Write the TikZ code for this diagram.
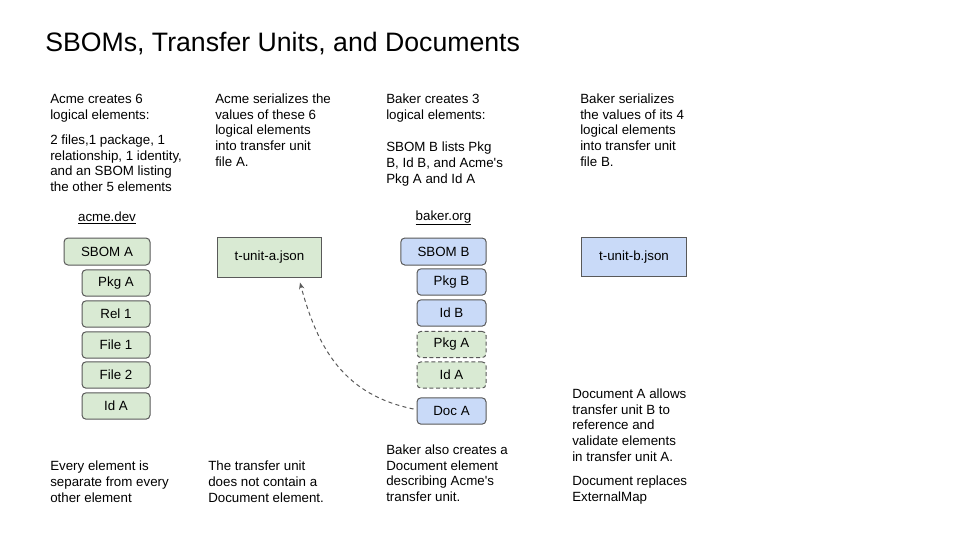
\documentclass[tikz,border=0pt]{standalone}
\usepackage{fontspec}
\setmainfont{Liberation Sans}
\usetikzlibrary{arrows.meta}
\definecolor{edgegray}{HTML}{595959}
\definecolor{greenfill}{HTML}{D9EAD3}
\definecolor{bluefill}{HTML}{C9DAF8}
\begin{document}
\begin{tikzpicture}[x=0.75pt,y=-0.75pt,
  txt/.style={anchor=base west,inner sep=0pt,align=left,font=\fontsize{10}{11.8}\selectfont},
  lbl/.style={inner sep=0pt,font=\fontsize{10}{12}\selectfont},
  elem/.style={draw=edgegray,line width=0.75pt,rounded corners=3pt,inner sep=0pt,
    font=\fontsize{10}{12}\selectfont,minimum height=19.75pt},
  greenbox/.style={elem,fill=greenfill},
  bluebox/.style={elem,fill=bluefill},
  refbox/.style={elem,fill=greenfill,dashed,dash pattern=on 3pt off 2pt},
  unitbox/.style={draw=edgegray,line width=0.75pt,inner sep=0pt,
    font=\fontsize{10}{12}\selectfont,minimum height=29.5pt,minimum width=78.5pt},
  link/.style={draw=edgegray,line width=0.75pt,dash pattern=on 3pt off 2.5pt,
    -{Stealth[length=5pt,width=4pt]}}]
\useasboundingbox (0,0) rectangle (960,540);

% title
\node[anchor=base west,inner sep=0pt,font=\fontsize{20}{24}\selectfont] (title) at (45,51.5) {SBOMs, Transfer Units, and Documents};

% top texts (positions are the baseline of the last line)
\node[txt] (c1a) at (50,119.2) {Acme creates 6\\logical elements:};
\node[txt] (c1b) at (50,191.7) {2 files,1 package, 1\\relationship, 1 identity,\\and an SBOM listing\\the other 5 elements};
\node[txt] (c2) at (215,166.4) {Acme serializes the\\values of these 6\\logical elements\\into transfer unit\\file A.};
\node[txt] (c3a) at (386,119.2) {Baker creates 3\\logical elements:};
\node[txt] (c3b) at (386,183) {SBOM B lists Pkg\\B, Id B, and Acme\textquotesingle s\\Pkg A and Id A};
\node[txt] (c4) at (580,166.4) {Baker serializes\\the values of its 4\\logical elements\\into transfer unit\\file B.};

% domain labels
\node[lbl] (acme) at (107,218) {\underline{acme.dev}};
\node[lbl] (baker) at (443.5,218) {\underline{baker.org}};

% acme elements
\node[greenbox,minimum width=64.5pt,minimum height=20.25pt] (sboma) at (107,251.5) {SBOM A};
\node[greenbox,minimum width=51pt] (pkga) at (116,283) {Pkg A};
\node[greenbox,minimum width=51pt] (rel1) at (116,314) {Rel 1};
\node[greenbox,minimum width=51pt] (file1) at (116,345) {File 1};
\node[greenbox,minimum width=51pt] (file2) at (116,375) {File 2};
\node[greenbox,minimum width=51pt] (ida) at (116,406) {Id A};

% transfer units
\node[unitbox,fill=greenfill] (tua) at (269.5,257.5) {t-unit-a.json};
\node[unitbox,fill=bluefill] (tub) at (634,257) {t-unit-b.json};

% baker elements
\node[bluebox,minimum width=64pt,minimum height=20.25pt] (sbomb) at (443.5,251.5) {SBOM B};
\node[bluebox,minimum width=51.75pt] (pkgb) at (451.5,282) {Pkg B};
\node[bluebox,minimum width=51.75pt] (idb) at (451.5,313) {Id B};
\node[refbox,minimum width=51.75pt] (pkgaref) at (451.5,344.5) {Pkg A};
\node[refbox,minimum width=51.75pt] (idaref) at (451.5,375) {Id A};
\node[bluebox,minimum width=51.75pt] (doca) at (451.5,411) {Doc A};

% reference arrow
\coordinate (tip) at (300,282.5);
\draw[link] (doca.west) ++(-3,-2) .. controls (345,395) and (318,350) .. (tip);

% bottom texts (positions are the baseline of the last line)
\node[txt] (b1) at (50,502) {Every element is\\separate from every\\other element};
\node[txt] (b2) at (208,502) {The transfer unit\\does not contain a\\Document element.};
\node[txt] (b3) at (386,501.7) {Baker also creates a\\Document element\\describing Acme\textquotesingle s\\transfer unit.};
\node[txt] (b4a) at (572,461.4) {Document A allows\\transfer unit B to\\reference and\\validate elements\\in transfer unit A.};
\node[txt] (b4b) at (572,501.2) {Document replaces\\ExternalMap};
\end{tikzpicture}
\end{document}
